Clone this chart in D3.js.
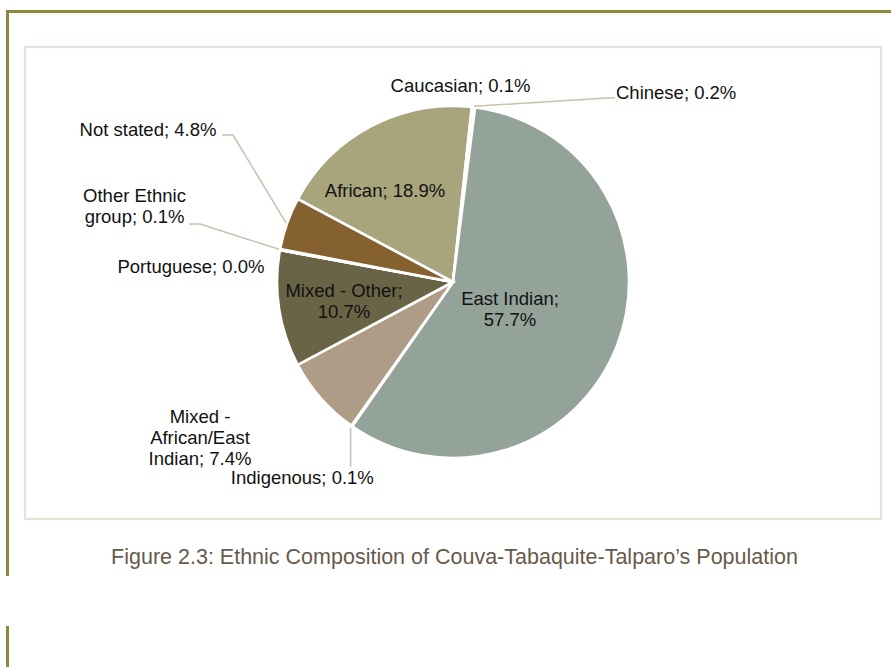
<!DOCTYPE html>
<html>
<head>
<meta charset="utf-8">
<script src="https://cdn.jsdelivr.net/npm/d3@7"></script>
<style>
  html, body { margin: 0; padding: 0; background: #ffffff; }
  svg { display: block; font-family: "Liberation Sans", Arial, sans-serif; }
</style>
</head>
<body>
<svg id="chart" width="891" height="667"></svg>
<script>
// Ethnic composition, in clockwise drawing order
const categories = ["African", "Caucasian", "Chinese", "East Indian", "Indigenous",
  "Mixed - African/East Indian", "Mixed - Other", "Portuguese", "Other Ethnic group", "Not stated"];
const shares = [18.9, 0.1, 0.2, 57.7, 0.1, 7.4, 10.7, 0.0, 0.1, 4.8];
const sliceColors = ["#a8a47c", "#c9c4a6", "#7f8d84", "#94a39a", "#cfc4b3",
  "#ae9c86", "#6a6446", "#4f4a33", "#b08a52", "#84612f"];
const captionText = "Figure 2.3: Ethnic Composition of Couva-Tabaquite-Talparo\u2019s Population";

// Label placement relative to the pie centre: [dx, dy of first baseline, anchor, wrap width]
const labelLayout = [
  [-68, -85, "middle", 200],
  [7.5, -190, "middle", 300],
  [163, -183, "start", 300],
  [57, 23, "middle", 112],
  [-150.7, 202, "middle", 300],
  [-253, 141, "middle", 108],
  [-109, 15, "middle", 128],
  [-262, -9, "middle", 300],
  [-318.5, -80, "middle", 112],
  [-305, -146, "middle", 300]
];
// Leader lines: [elbow dx, elbow dy, end dx, end dy] relative to the centre (null = none)
const leaderLayout = [
  null, null,
  [153, -184, 162, -184],
  null,
  null,
  null, null, null,
  [-253, -58, -264, -58],
  [-220, -147, -231, -147]
];
const indigenousLeader = [-101.5, 185];

const svg = d3.select("#chart");
const W = 891, H = 667;
const cx = 453, cy = 282, R = 176;

// Outer page frame
const olive = "#8c893d";
svg.append("rect").attr("x", 6).attr("y", 10).attr("width", W - 6).attr("height", 3).attr("fill", olive);
svg.append("rect").attr("x", 6).attr("y", 10).attr("width", 3).attr("height", 566).attr("fill", olive);
svg.append("rect").attr("x", 6).attr("y", 626).attr("width", 3).attr("height", H - 626).attr("fill", olive);

// Chart area border
svg.append("rect")
  .attr("x", 25).attr("y", 47).attr("width", 856).attr("height", 472)
  .attr("fill", "#ffffff").attr("stroke", "#e6e2d9").attr("stroke-width", 2.2);

const data = categories.map((c, i) => ({ name: c, value: shares[i], color: sliceColors[i], i }));

const startAngle = -61.9 * Math.PI / 180;
const pie = d3.pie().sort(null).value(d => d.value)
  .startAngle(startAngle).endAngle(startAngle + 2 * Math.PI);
const arcs = pie(data);
const arc = d3.arc().innerRadius(0).outerRadius(R);

const g = svg.append("g").attr("transform", `translate(${cx},${cy})`);

g.selectAll("path.slice")
  .data(arcs)
  .join("path")
  .attr("class", "slice")
  .attr("d", arc)
  .attr("fill", d => d.data.color)
  .attr("stroke", "#ffffff")
  .attr("stroke-width", 2.6)
  .attr("stroke-linejoin", "miter");

// Leader lines
const leaderColor = "#c9c0ae";
const edgePoint = (a, r) => {
  const m = (a.startAngle + a.endAngle) / 2;
  return [r * Math.sin(m), -r * Math.cos(m)];
};
arcs.forEach((a, i) => {
  const L = leaderLayout[i];
  if (L) {
    const p0 = edgePoint(a, R + 1);
    g.append("polyline")
      .attr("points", [p0, [L[0], L[1]], [L[2], L[3]]].map(p => p.join(",")).join(" "))
      .attr("fill", "none").attr("stroke", leaderColor).attr("stroke-width", 1.5);
  }
  if (a.data.name === "Indigenous") {
    const p0 = edgePoint(a, R + 2);
    g.append("line")
      .attr("x1", p0[0]).attr("y1", p0[1])
      .attr("x2", p0[0]).attr("y2", indigenousLeader[1])
      .attr("stroke", leaderColor).attr("stroke-width", 1.5);
  }
});

// Data labels
const fontSize = 18.5, lineH = 21;
arcs.forEach((a, i) => {
  const [dx, dy, anchor, wrap] = labelLayout[i];
  const full = `${a.data.name}; ${a.data.value.toFixed(1)}%`;
  const t = g.append("text")
    .attr("x", dx).attr("y", dy)
    .attr("text-anchor", anchor)
    .attr("font-size", fontSize)
    .attr("fill", "#111111");
  // greedy word wrap
  const words = full.split(" ");
  const lines = [];
  let cur = "";
  const probe = t.append("tspan");
  words.forEach(w => {
    const test = cur ? cur + " " + w : w;
    probe.text(test);
    if (cur && probe.node().getComputedTextLength() > wrap) {
      lines.push(cur);
      cur = w;
    } else {
      cur = test;
    }
  });
  lines.push(cur);
  probe.remove();
  lines.forEach((ln, k) => {
    t.append("tspan").attr("x", dx).attr("y", dy + k * lineH).text(ln);
  });
});

// Caption
svg.append("text")
  .attr("x", 454.5).attr("y", 563.5)
  .attr("text-anchor", "middle")
  .attr("font-size", 21.5)
  .attr("fill", "#675a4b")
  .text(captionText);
</script>
</body>
</html>
